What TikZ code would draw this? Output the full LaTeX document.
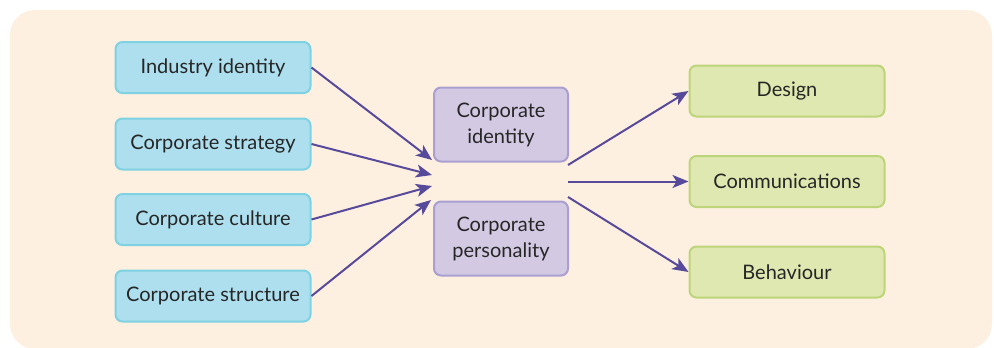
\documentclass[tikz,border=0pt]{standalone}
\usepackage{fontspec}
\setmainfont{Lato}
\usetikzlibrary{arrows.meta}
\definecolor{bgcream}{HTML}{FEF0E1}
\definecolor{bluefill}{HTML}{ADDFEF}
\definecolor{blueline}{HTML}{7ED2E2}
\definecolor{purplefill}{HTML}{D3C9E3}
\definecolor{purpleline}{HTML}{AA9FD1}
\definecolor{greenfill}{HTML}{DEE8B0}
\definecolor{greenline}{HTML}{BDD57A}
\definecolor{arrowcol}{HTML}{584A9B}
\tikzset{
  box/.style={rounded corners=7pt,line width=2pt,minimum height=51pt,align=center,
    font=\fontsize{20}{26}\selectfont,text=black!85},
  inbox/.style={box,fill=bluefill,draw=blueline,minimum width=195pt},
  midbox/.style={box,fill=purplefill,draw=purpleline,minimum width=134pt,minimum height=74pt},
  outbox/.style={box,fill=greenfill,draw=greenline,minimum width=195pt},
  flow/.style={-{Stealth[length=16pt,width=13pt,inset=4pt]},line width=2pt,draw=arrowcol}
}
\begin{document}
\begin{tikzpicture}[x=1pt,y=-1pt]
\useasboundingbox (0,0) rectangle (994,348);
\fill[bgcream,rounded corners=25pt] (10,10) rectangle (992,349);
% inputs
\node[inbox] (industry) at (213,67.5) {Industry identity};
\node[inbox] (strategy) at (213,144) {Corporate strategy};
\node[inbox] (culture) at (213,219.5) {Corporate culture};
\node[inbox] (structure) at (213,296) {Corporate structure};
% centre
\node[midbox] (identity) at (501,124.5) {Corporate\\identity};
\node[midbox] (personality) at (501,238.5) {Corporate\\personality};
\coordinate (inA) at (432,160);
\coordinate (inB) at (432,175);
\coordinate (inC) at (432,186);
\coordinate (inD) at (431,200);
\coordinate (outA) at (568,165);
\coordinate (outB) at (568,181.5);
\coordinate (outC) at (568,197);
% outputs
\node[outbox] (design) at (787,91) {Design};
\node[outbox] (comms) at (787,181.5) {Communications};
\node[outbox] (behaviour) at (787,272) {Behaviour};
\draw[flow] (industry.east) -- (inA);
\draw[flow] (strategy.east) -- (inB);
\draw[flow] (culture.east) -- (inC);
\draw[flow] (structure.east) -- (inD);
\draw[flow] (outA) -- (design.west);
\draw[flow] (outB) -- (comms.west);
\draw[flow] (outC) -- (behaviour.west);
\end{tikzpicture}
\end{document}
